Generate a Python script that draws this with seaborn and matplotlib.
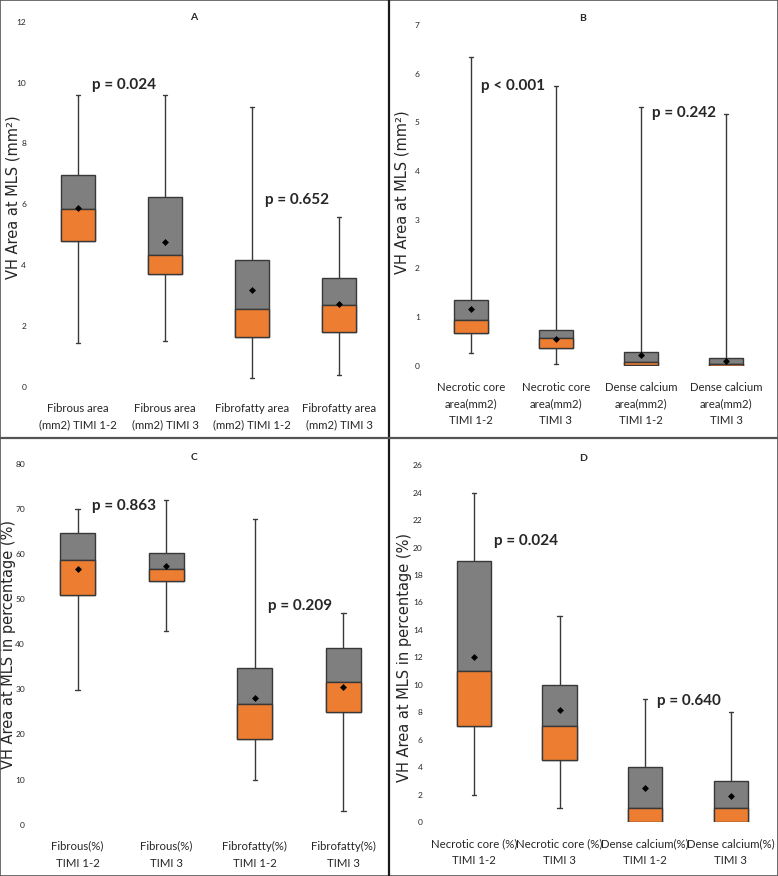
import matplotlib.pyplot as plt
from matplotlib import font_manager
from matplotlib.lines import Line2D
import numpy as np
import pandas as pd
import seaborn as sns

# ---- data (min, q1, median, q3, max, mean) ----
cats_a = ["Fibrous area\n(mm2) TIMI 1-2", "Fibrous area\n(mm2) TIMI 3",
          "Fibrofatty area\n(mm2) TIMI 1-2", "Fibrofatty area\n(mm2) TIMI 3"]
min_a = [1.43, 1.49, 0.30, 0.37]
q1_a = [4.78, 3.71, 1.62, 1.79]
med_a = [5.83, 4.34, 2.57, 2.68]
q3_a = [6.95, 6.23, 4.15, 3.57]
max_a = [9.60, 9.60, 9.18, 5.57]
mean_a = [5.88, 4.75, 3.18, 2.73]

cats_b = ["Necrotic core\narea(mm2)\nTIMI 1-2", "Necrotic core\narea(mm2)\nTIMI 3",
          "Dense calcium\narea(mm2)\nTIMI 1-2", "Dense calcium\narea(mm2)\nTIMI 3"]
min_b = [0.27, 0.03, 0.00, 0.00]
q1_b = [0.67, 0.36, 0.01, 0.00]
med_b = [0.94, 0.57, 0.08, 0.04]
q3_b = [1.35, 0.74, 0.29, 0.15]
max_b = [6.35, 5.75, 5.31, 5.18]
mean_b = [1.16, 0.55, 0.22, 0.10]

cats_c = ["Fibrous(%)\nTIMI 1-2", "Fibrous(%)\nTIMI 3",
          "Fibrofatty(%)\nTIMI 1-2", "Fibrofatty(%)\nTIMI 3"]
min_c = [29.8, 42.9, 9.9, 3.0]
q1_c = [50.8, 53.9, 19.0, 25.0]
med_c = [58.7, 56.7, 26.8, 31.7]
q3_c = [64.7, 60.3, 34.8, 39.2]
max_c = [70.0, 71.9, 67.8, 46.9]
mean_c = [56.7, 57.4, 28.1, 30.6]

cats_d = ["Necrotic core (%)\nTIMI 1-2", "Necrotic core (%)\nTIMI 3",
          "Dense calcium(%)\nTIMI 1-2", "Dense calcium(%)\nTIMI 3"]
min_d = [2.0, 1.0, 0.0, 0.0]
q1_d = [7.0, 4.5, 0.0, 0.0]
med_d = [11.0, 7.0, 1.0, 1.0]
q3_d = [19.0, 10.0, 4.0, 3.0]
max_d = [24.0, 15.0, 9.0, 8.0]
mean_d = [12.0, 8.2, 2.5, 1.9]

ORANGE = "#ED7D31"
GRAY = "#7F7F7F"
EDGE = "#383838"

sns.set_style("white")
installed = {f.name for f in font_manager.fontManager.ttflist}
if "Liberation Sans Narrow" in installed:
    LABEL_FONT, LABEL_SIZE = "Liberation Sans Narrow", 9.5
else:
    LABEL_FONT, LABEL_SIZE = "Lato", 8.2
plt.rcParams["font.family"] = [LABEL_FONT, "DejaVu Sans"]

W, H = 778, 876
fig = plt.figure(figsize=(W / 100, H / 100), dpi=100)


def px_axes(left, right, top, bottom):
    # pixel box -> figure fraction
    return fig.add_axes([left / W, 1 - bottom / H, (right - left) / W, (bottom - top) / H])


def draw_panel(ax, cats, mins, q1, med, q3, maxs, means, yticks, ylabel, ylab_pos, pvals):
    five = pd.DataFrame({
        "cat": np.repeat(cats, 5),
        "val": np.column_stack([mins, q1, med, q3, maxs]).ravel(),
    })
    sns.boxplot(data=five, x="cat", y="val", order=cats, whis=(0, 100), width=0.4,
                color=GRAY, saturation=1, linecolor=EDGE, linewidth=1.0,
                whiskerprops=dict(color="#3a3a3a", linewidth=1.0),
                capprops=dict(color="#3a3a3a", linewidth=1.0),
                medianprops=dict(color=EDGE, linewidth=1.0), ax=ax)
    # Excel-style tiny whisker caps
    for ln in ax.lines:
        xs = np.asarray(ln.get_xdata(), dtype=float)
        if len(xs) == 2 and abs(abs(xs[1] - xs[0]) - 0.2) < 1e-6:
            c = xs.mean()
            ln.set_xdata([c - 0.025, c + 0.025])
    lower = np.array(med) - np.array(q1)
    sns.barplot(x=cats, y=lower, order=cats, bottom=q1, width=0.4, color=ORANGE,
                saturation=1, edgecolor=EDGE, linewidth=1.0, errorbar=None,
                zorder=3, ax=ax)
    sns.pointplot(x=cats, y=means, order=cats, linestyle="none", marker="D",
                  color="black", markersize=1.5, errorbar=None, zorder=5, ax=ax)
    ax.set_xlim(-0.5, 3.5)
    ax.set_ylim(yticks[0], yticks[-1])
    ax.set_yticks(yticks)
    ax.tick_params(axis="y", length=0, pad=6, labelsize=6)
    ax.tick_params(axis="x", length=0, pad=11.5, labelsize=LABEL_SIZE)
    for t in ax.get_xticklabels():
        t.set_linespacing(1.65)
    ax.set_xlabel("")
    ax.set_ylabel(ylabel, family="DejaVu Sans", fontsize=10.5, va="center")
    ax.yaxis.set_label_coords(*ylab_pos)
    for x, y, txt in pvals:
        ax.text(x, y, txt, fontsize=11, fontweight="bold", family=["Lato", "DejaVu Sans"],
                ha="left", va="center", zorder=6)
    sns.despine(ax=ax, left=True, bottom=True)


ax_a = px_axes(34.5, 382.5, 21.7, 386.7)
draw_panel(ax_a, cats_a, min_a, q1_a, med_a, q3_a, max_a, mean_a,
           np.arange(0, 13, 2), "VH Area at MLS (mm²)", (-0.062, 0.52),
           [(0.16, 9.92, "p = 0.024"), (2.15, 6.14, "p = 0.652")])

ax_b = px_axes(389 + 39.1, 389 + 379.9, 25.0, 365.7)
draw_panel(ax_b, cats_b, min_b, q1_b, med_b, q3_b, max_b, mean_b,
           np.arange(0, 8, 1), "VH Area at MLS (mm²)", (-0.076, 0.51),
           [(0.12, 5.75, "p < 0.001"), (2.13, 5.2, "p = 0.242")])

ax_c = px_axes(33.4, 387.6, 438 + 25.7, 438 + 386.7)
draw_panel(ax_c, cats_c, min_c, q1_c, med_c, q3_c, max_c, mean_c,
           np.arange(0, 81, 10), "VH Area at MLS in percentage (%)", (-0.071, 0.50),
           [(0.16, 70.7, "p = 0.863"), (2.15, 48.5, "p = 0.209")])

ax_d = px_axes(389 + 42.2, 389 + 384.5, 438 + 27.3, 438 + 384.0)
draw_panel(ax_d, cats_d, min_d, q1_d, med_d, q3_d, max_d, mean_d,
           np.arange(0, 27, 2), "VH Area at MLS in percentage (%)", (-0.079, 0.46),
           [(0.23, 20.5, "p = 0.024"), (2.14, 8.8, "p = 0.640")])

# panel letters
for letter, (px, py) in zip("ABCD", [(194, 17.5), (583, 18.5), (194, 457), (583, 458)]):
    fig.text(px / W, 1 - py / H, letter, fontsize=7.5, fontweight="bold",
             ha="center", va="center")

# panel frames
fig.add_artist(Line2D([389 / W, 389 / W], [0, 1], color="#1a1a1a", linewidth=1.6))
fig.add_artist(Line2D([0, 1], [1 - 438 / H, 1 - 438 / H], color="#555555", linewidth=1.6))
fig.add_artist(plt.Rectangle((0, 0), 1, 1, fill=False, edgecolor="#555555",
                             linewidth=1.2, transform=fig.transFigure))

fig.savefig("out.png", dpi=100)
